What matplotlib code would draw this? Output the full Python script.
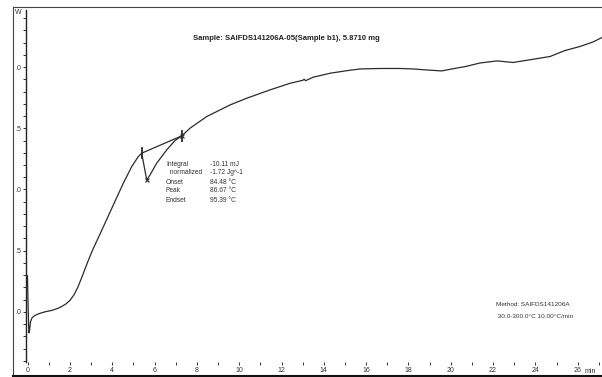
#!/usr/bin/env python3
"""DSC curve of sample SAIFDS141206A-05 with the peak evaluation box."""
import matplotlib

matplotlib.use("Agg")
import matplotlib.pyplot as plt
from matplotlib.lines import Line2D
from matplotlib.ticker import MultipleLocator

plt.rcParams["font.family"] = ["Liberation Sans", "DejaVu Sans"]

# heat flow curve, time in min, heat flow in mW (leading digit of axis labels is cut off)
time_min = [
    -0.01, 0.014, 0.043, 0.061, 0.09, 0.132, 0.203, 0.345, 0.582, 0.818,
    1.149, 1.433, 1.622, 1.811, 2.0, 2.189, 2.378, 2.567, 2.756, 2.93,
    3.102, 3.574, 4.047, 4.52, 4.917, 5.229, 5.39, 5.626, 5.783, 6.099,
    6.572, 6.965, 7.281, 7.674, 8.463, 9.565, 10.355, 11.456, 12.402, 13.016,
    13.064, 13.135, 13.504, 14.293, 15.083, 15.712, 16.657, 17.603, 18.217, 18.865,
    19.574, 20.047, 20.723, 21.385, 22.189, 22.946, 23.844, 24.695, 25.404, 26.113,
    26.728, 27.154,
]
heat_flow = [
    0.294, 0.098, -0.106, -0.172, -0.147, -0.082, -0.049, -0.029, -0.012, 0.0,
    0.012, 0.029, 0.045, 0.065, 0.094, 0.139, 0.204, 0.286, 0.372, 0.448,
    0.518, 0.694, 0.873, 1.051, 1.187, 1.269, 1.297, 1.078, 1.119, 1.215,
    1.324, 1.400, 1.438, 1.501, 1.596, 1.691, 1.746, 1.814, 1.868, 1.893,
    1.902, 1.889, 1.918, 1.950, 1.971, 1.985, 1.989, 1.989, 1.985, 1.977,
    1.969, 1.985, 2.006, 2.034, 2.051, 2.038, 2.063, 2.087, 2.136, 2.169,
    2.206, 2.243,
]

# peak evaluation: onset / peak / endset points on the curve
onset_point = (5.39, 1.297)
peak_point = (5.626, 1.078)
endset_point = (7.281, 1.438)

result_labels = ["Integral", "  normalized", "Onset", "Peak", "Endset"]
result_values = ["-10.11 mJ", "-1.72 Jg^-1", "84.48 \u00b0C", "86.67 \u00b0C", "95.39 \u00b0C"]

y_ticks = [0.0, 0.5, 1.0, 1.5, 2.0]
y_tick_labels = [".0", ".5", ".0", ".5", ".0"]
x_ticks = list(range(0, 27, 2))

title_text = "Sample: SAIFDS141206A-05(Sample b1), 5.8710 mg"
method_lines = ["Method: SAIFDS141206A", " 30.0-300.0\u00b0C 10.00\u00b0C/min"]

W, H = 602, 377
fig = plt.figure(figsize=(W / 100, H / 100), dpi=100)
fig.patch.set_facecolor("white")


def fx(px):
    return px / W


def fy(py):
    return 1 - py / H


ax = fig.add_axes([fx(26), fy(362), fx(W - 26), (362 - 10) / H])
ax.set_xlim(-0.08, 27.15)
ax.set_ylim(-0.41, 2.467)

line_color = "#2b2b2b"
ax.plot(time_min, heat_flow, color=line_color, lw=0.9)

# baseline and evaluation markers
ax.plot([onset_point[0], endset_point[0]], [onset_point[1], endset_point[1]],
        color=line_color, lw=0.9)
for px_, py_ in (onset_point, endset_point):
    ax.plot([px_, px_], [py_ - 0.04, py_ + 0.04], color=line_color, lw=1.3)
ax.plot(*endset_point, marker="x", ms=3.5, color=line_color, mew=0.8)
ax.plot(*peak_point, marker="x", ms=3.5, color=line_color, mew=0.8)

for side in ("top", "right", "bottom"):
    ax.spines[side].set_visible(False)
ax.spines["left"].set_color("#222222")
ax.spines["left"].set_linewidth(1.0)

ax.set_yticks(y_ticks)
ax.set_yticklabels(y_tick_labels)
ax.yaxis.set_minor_locator(MultipleLocator(0.1))
ax.set_xticks(x_ticks)
ax.set_xticklabels([str(t) for t in x_ticks])
ax.xaxis.set_minor_locator(MultipleLocator(1))
ax.tick_params(axis="both", which="both", direction="out", length=2.2,
               width=0.7, colors="#333333", labelsize=5.0, pad=1.2)
ax.tick_params(axis="x", which="both", pad=1.5)

fig.text(fx(14.5), fy(12.5), "W", fontsize=5.0, color="#333333", va="center")
fig.text(fx(585), fy(371.5), "min", fontsize=5.0, color="#333333", va="center")

fig.text(fx(193), fy(39), title_text, fontsize=5.5, fontweight="bold",
         color="#222222", va="center")

row_y = [164, 173, 182, 191, 200]
for label, value, ry in zip(result_labels, result_values, row_y):
    fig.text(fx(166), fy(ry), label, fontsize=4.8, color="#333333", va="center")
    fig.text(fx(210.5), fy(ry), value, fontsize=4.8, color="#333333", va="center")

fig.text(fx(495.5), fy(304), method_lines[0], fontsize=4.6, color="#333333", va="center")
fig.text(fx(495.5), fy(317), method_lines[1], fontsize=4.6, color="#333333", va="center")

# outer frame of the printout
fig.add_artist(Line2D([fx(13), fx(13)], [fy(7), fy(376)], color="#444444", lw=0.8))
fig.add_artist(Line2D([fx(13), 1.0], [fy(7), fy(7)], color="#444444", lw=0.8))
fig.add_artist(Line2D([fx(13), 1.0], [fy(376), fy(376)], color="#111111", lw=1.5))

fig.savefig("out.png", dpi=100)
